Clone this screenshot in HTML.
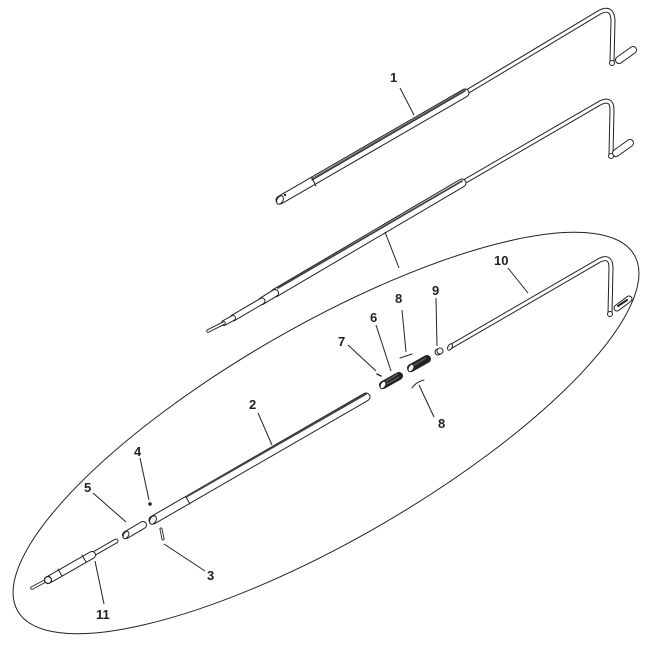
<!DOCTYPE html>
<html><head><meta charset="utf-8"><style>
html,body{margin:0;padding:0;background:#fff;width:650px;height:650px;overflow:hidden;}
svg{display:block;}
text{font-family:"Liberation Sans",sans-serif;font-size:13px;font-weight:bold;fill:#222;}
</style></head><body>
<svg width="650" height="650" viewBox="0 0 650 650" xmlns="http://www.w3.org/2000/svg">
<g fill="none" stroke-linecap="round" stroke-linejoin="round">
<ellipse cx="326" cy="433" rx="356" ry="107" transform="rotate(-30 326 433)" stroke="#222" stroke-width="1"/>

<!-- ROD 1 -->
<path d="M465,93 L600,12 Q612,6 613,20 L612,62" stroke="#222" stroke-width="5"/>
<path d="M465,93 L600,12 Q612,6 613,20 L612,62" stroke="#fff" stroke-width="3"/>
<line x1="280" y1="200" x2="465" y2="93" stroke="#222" stroke-width="9"/>
<line x1="280" y1="200" x2="465" y2="93" stroke="#fff" stroke-width="7"/>
<line x1="312" y1="182" x2="465" y2="93" stroke="#222" stroke-width="1.2" transform="translate(0,-2)"/>
<line x1="312" y1="182" x2="465" y2="93" stroke="#555" stroke-width="1.5" transform="translate(0,-3)"/>
<line x1="312" y1="178" x2="316" y2="186" stroke="#222" stroke-width="1"/>
<ellipse cx="280" cy="200" rx="3" ry="4.5" transform="rotate(30 280 200)" stroke="#222" fill="#fff" stroke-width="1"/>
<circle cx="285" cy="195" r="1.2" fill="#222" stroke="none"/>
<line x1="619" y1="60" x2="633" y2="50" stroke="#222" stroke-width="8"/>
<line x1="619" y1="60" x2="633" y2="50" stroke="#fff" stroke-width="6"/>
<circle cx="612" cy="63" r="2.5" stroke="#222" fill="#fff" stroke-width="1"/>

<!-- ROD 2 -->
<path d="M462,183 L600,103 Q612,97 612,110 L611,155" stroke="#222" stroke-width="5"/>
<path d="M462,183 L600,103 Q612,97 612,110 L611,155" stroke="#fff" stroke-width="3"/>
<line x1="275" y1="293" x2="462" y2="183" stroke="#222" stroke-width="9"/>
<line x1="275" y1="293" x2="462" y2="183" stroke="#fff" stroke-width="7"/>
<line x1="278" y1="288" x2="462" y2="181" stroke="#444" stroke-width="1.8"/>
<line x1="262" y1="301" x2="275" y2="293" stroke="#222" stroke-width="8"/>
<line x1="262" y1="301" x2="275" y2="293" stroke="#fff" stroke-width="6"/>
<line x1="233" y1="318" x2="262" y2="301" stroke="#222" stroke-width="7"/>
<line x1="233" y1="318" x2="262" y2="301" stroke="#fff" stroke-width="5"/>
<line x1="224" y1="323" x2="233" y2="318" stroke="#222" stroke-width="6"/>
<line x1="224" y1="323" x2="233" y2="318" stroke="#fff" stroke-width="4"/>
<line x1="208" y1="331" x2="224" y2="323" stroke="#222" stroke-width="3.5"/>
<line x1="208" y1="331" x2="224" y2="323" stroke="#fff" stroke-width="1.8"/>
<line x1="616" y1="153" x2="630" y2="143" stroke="#222" stroke-width="8"/>
<line x1="616" y1="153" x2="630" y2="143" stroke="#fff" stroke-width="6"/>
<circle cx="611" cy="156" r="2.5" stroke="#222" fill="#fff" stroke-width="1"/>

<!-- ROD 10 -->
<path d="M450,347 L600,260 Q611,255 611,268 L610,313" stroke="#222" stroke-width="5"/>
<path d="M450,347 L600,260 Q611,255 611,268 L610,313" stroke="#fff" stroke-width="3"/>
<line x1="617" y1="308" x2="629" y2="299" stroke="#222" stroke-width="7"/>
<line x1="617" y1="308" x2="629" y2="299" stroke="#fff" stroke-width="5"/>
<line x1="618" y1="306" x2="627" y2="300" stroke="#222" stroke-width="2"/>
<circle cx="610" cy="314" r="2.5" stroke="#222" fill="#fff" stroke-width="1"/>

<!-- PART 2 -->
<line x1="153" y1="520" x2="366" y2="397" stroke="#222" stroke-width="9"/>
<line x1="153" y1="520" x2="366" y2="397" stroke="#fff" stroke-width="7"/>
<line x1="186" y1="497" x2="366" y2="394" stroke="#444" stroke-width="1.8"/>
<line x1="186" y1="497" x2="190" y2="504" stroke="#222" stroke-width="1"/>
<ellipse cx="153" cy="520" rx="3" ry="4.5" transform="rotate(30 153 520)" stroke="#222" fill="#fff" stroke-width="1"/>

<!-- PART 5 -->
<line x1="126" y1="535" x2="143" y2="525" stroke="#222" stroke-width="8"/>
<line x1="126" y1="535" x2="143" y2="525" stroke="#fff" stroke-width="6"/>
<ellipse cx="126" cy="535" rx="2.5" ry="4" transform="rotate(30 126 535)" stroke="#222" fill="#fff" stroke-width="1"/>

<!-- PART 11 -->
<line x1="62" y1="572" x2="116" y2="541" stroke="#222" stroke-width="5"/>
<line x1="62" y1="572" x2="116" y2="541" stroke="#fff" stroke-width="3"/>
<line x1="50" y1="579" x2="92" y2="555" stroke="#222" stroke-width="8"/>
<line x1="50" y1="579" x2="92" y2="555" stroke="#fff" stroke-width="6"/>
<line x1="82" y1="555" x2="86" y2="562" stroke="#222" stroke-width="1"/>
<line x1="58" y1="569" x2="62" y2="576" stroke="#222" stroke-width="1"/>
<line x1="32" y1="588" x2="47" y2="580" stroke="#222" stroke-width="3.5"/>
<line x1="32" y1="588" x2="47" y2="580" stroke="#fff" stroke-width="1.8"/>
<circle cx="48" cy="580" r="3.5" stroke="#222" fill="#fff" stroke-width="1.2"/>

<!-- small parts -->
<circle cx="150" cy="504" r="1.8" fill="#222" stroke="none"/>
<line x1="161" y1="529" x2="163" y2="539" stroke="#222" stroke-width="3"/>
<line x1="161" y1="529" x2="163" y2="539" stroke="#fff" stroke-width="1.2"/>
<line x1="383" y1="385" x2="399" y2="376" stroke="#222" stroke-width="8"/>
<line x1="385" y1="382" x2="398" y2="374" stroke="#777" stroke-width="1"/>
<line x1="385" y1="385" x2="399" y2="377" stroke="#777" stroke-width="1"/>
<ellipse cx="383" cy="385" rx="2.5" ry="4" transform="rotate(30 383 385)" stroke="#222" fill="#fff" stroke-width="1"/>
<line x1="411" y1="368" x2="427" y2="359" stroke="#222" stroke-width="8"/>
<line x1="413" y1="366" x2="426" y2="358" stroke="#777" stroke-width="1"/>
<ellipse cx="411" cy="368" rx="2.5" ry="4" transform="rotate(30 411 368)" stroke="#222" fill="#fff" stroke-width="1"/>
<line x1="377" y1="374" x2="381" y2="376" stroke="#222" stroke-width="1.5"/>
<path d="M400,358 Q406,356 412,354" stroke="#222" stroke-width="1"/>
<path d="M412,388 Q416,382 424,380" stroke="#222" stroke-width="1"/>
<circle cx="438" cy="352" r="3" stroke="#222" fill="#fff" stroke-width="1"/>
<circle cx="440" cy="351" r="3" stroke="#222" fill="#fff" stroke-width="1"/>
<ellipse cx="450" cy="347" rx="2" ry="3.5" transform="rotate(30 450 347)" stroke="#222" fill="#fff" stroke-width="1"/>
</g>

<g stroke="#222" stroke-width="1" fill="none">
<line x1="400" y1="88" x2="414" y2="115"/>
<line x1="385" y1="232" x2="399" y2="268"/>
<line x1="258" y1="413" x2="272" y2="445"/>
<line x1="140" y1="458" x2="149" y2="500"/>
<line x1="93" y1="493" x2="126" y2="522"/>
<line x1="164" y1="544" x2="205" y2="571"/>
<line x1="95" y1="561" x2="104" y2="604"/>
<line x1="348" y1="345" x2="376" y2="371"/>
<line x1="376" y1="325" x2="391" y2="371"/>
<line x1="402" y1="310" x2="406" y2="352"/>
<line x1="436" y1="298" x2="437" y2="346"/>
<line x1="419" y1="385" x2="434" y2="417"/>
<line x1="508" y1="268" x2="528" y2="293"/>
</g>

<text x="390" y="82">1</text>
<text x="249" y="409">2</text>
<text x="207" y="580">3</text>
<text x="134" y="456">4</text>
<text x="84" y="492">5</text>
<text x="370" y="322">6</text>
<text x="338" y="346">7</text>
<text x="395" y="303">8</text>
<text x="438" y="428">8</text>
<text x="432" y="295">9</text>
<text x="494" y="265">10</text>
<text x="96" y="619">11</text>
</svg>
</body></html>
